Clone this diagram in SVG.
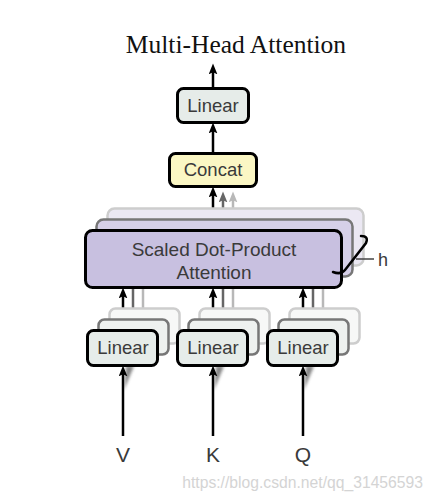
<svg xmlns="http://www.w3.org/2000/svg" width="434" height="500" viewBox="0 0 434 500">
  <defs>
    <style>
      .lbl { font-family: "Liberation Sans", Arial, sans-serif; fill: #3a3a3a; text-anchor: middle; }
      .box { font-size: 18.5px; }
      .lin { fill: #e6ece9; stroke: #000; stroke-width: 3; }
      .lin2 { fill: #eef1ef; stroke: #777; stroke-width: 2.5; }
      .lin3 { fill: #f7f8f7; stroke: #cdcdcd; stroke-width: 2.5; }
      .att { fill: #c8c0e0; stroke: #000; stroke-width: 3; }
      .att2 { fill: #d6d0e8; stroke: #777; stroke-width: 2.5; }
      .att3 { fill: #ebe8f3; stroke: #cdcdcd; stroke-width: 2.5; }
      .cat { fill: #fbf7c4; stroke: #000; stroke-width: 3; }
      .arr { stroke: #000; stroke-width: 2.5; fill: none; marker-end: url(#head); }
      .arr2 { stroke: #666; stroke-width: 2.5; fill: none; }
      .arr3 { stroke: #b8b8b8; stroke-width: 2.5; fill: none; }
    </style>
    <marker id="head" viewBox="0 0 10 8" markerWidth="11" markerHeight="9" refX="4" refY="4" orient="auto" markerUnits="userSpaceOnUse">
      <path d="M0,0 L10,4 L0,8 L2,4 z" fill="#000"/>
    </marker>
    <marker id="head2" viewBox="0 0 10 8" markerWidth="11" markerHeight="9" refX="4" refY="4" orient="auto" markerUnits="userSpaceOnUse">
      <path d="M0,0 L10,4 L0,8 L2,4 z" fill="#666"/>
    </marker>
    <marker id="head3" viewBox="0 0 10 8" markerWidth="11" markerHeight="9" refX="4" refY="4" orient="auto" markerUnits="userSpaceOnUse">
      <path d="M0,0 L10,4 L0,8 L2,4 z" fill="#b8b8b8"/>
    </marker>
    <filter id="soft" x="-50%" y="-50%" width="200%" height="200%">
      <feGaussianBlur stdDeviation="1.6"/>
    </filter>
  </defs>

  <rect width="434" height="500" fill="#fff"/>

  <!-- title -->
  <text x="236" y="53" font-family="'Liberation Serif', 'Times New Roman', serif" font-size="25.5" text-anchor="middle" fill="#111">Multi-Head Attention</text>

  <!-- connectors -->
  <g id="connectors">
    <!-- output of final Linear -->
    <line class="arr" x1="213" y1="87" x2="213" y2="70"/>
    <!-- Concat to Linear -->
    <line class="arr" x1="213" y1="153" x2="213" y2="129"/>
    <!-- attention heads to Concat -->
    <line class="arr3" x1="233" y1="208" x2="233" y2="198" marker-end="url(#head3)"/>
    <line class="arr2" x1="223" y1="219" x2="223" y2="198" marker-end="url(#head2)"/>
    <line class="arr" x1="213" y1="230" x2="213" y2="193"/>
    <!-- projected inputs to attention (back heads) -->
    <line class="arr3" x1="143" y1="308" x2="143" y2="288"/>
    <line class="arr2" x1="133" y1="319" x2="133" y2="288"/>
    <line class="arr3" x1="233" y1="308" x2="233" y2="288"/>
    <line class="arr2" x1="223" y1="319" x2="223" y2="288"/>
    <line class="arr3" x1="323" y1="308" x2="323" y2="288"/>
    <line class="arr2" x1="313" y1="319" x2="313" y2="288"/>
    <!-- projected inputs to attention (front head) -->
    <line class="arr" x1="123" y1="330" x2="123" y2="294"/>
    <line class="arr" x1="213" y1="330" x2="213" y2="294"/>
    <line class="arr" x1="303" y1="330" x2="303" y2="294"/>
    <!-- inputs into back projections, seen at an angle -->
    <g filter="url(#soft)" fill="#666" opacity="0.8">
      <polygon points="124,390 126,366 134,366"/>
      <polygon points="214,390 216,366 224,366"/>
      <polygon points="304,390 306,366 314,366"/>
    </g>
    <!-- V, K, Q inputs -->
    <line class="arr" x1="123" y1="436" x2="123" y2="372"/>
    <line class="arr" x1="213" y1="436" x2="213" y2="372"/>
    <line class="arr" x1="303" y1="436" x2="303" y2="372"/>
  </g>

  <!-- final projection -->
  <g id="linear-out">
    <rect class="lin" x="177.5" y="88.5" width="71" height="34" rx="6"/>
    <text class="lbl box" x="213" y="112">Linear</text>
  </g>

  <!-- concatenation -->
  <g id="concat">
    <rect class="cat" x="169.5" y="153.5" width="87" height="33" rx="6"/>
    <text class="lbl box" x="213" y="176">Concat</text>
  </g>

  <!-- stacked attention heads -->
  <g id="attention">
    <rect class="att3" x="107.5" y="208.5" width="256" height="57" rx="7"/>
    <rect class="att2" x="96.5" y="219.5" width="256" height="57" rx="7"/>
    <rect class="att" x="85.5" y="230.5" width="256" height="57" rx="7"/>
    <text class="lbl" x="214" y="256" font-size="19">Scaled Dot-Product</text>
    <text class="lbl" x="214" y="279" font-size="19">Attention</text>
  </g>

  <!-- head count bracket -->
  <g id="heads-h">
    <path d="M361,236 Q369,236 366,243 L345,270 Q341,275 333,272" fill="none" stroke="#000" stroke-width="2.5" stroke-linecap="round"/>
    <line x1="356" y1="259" x2="374" y2="259" stroke="#444" stroke-width="1.5"/>
    <text class="lbl" x="383" y="266" font-size="18">h</text>
  </g>

  <!-- input projections -->
  <g id="linear-v">
    <rect class="lin3" x="109.5" y="308.5" width="70" height="35" rx="6"/>
    <rect class="lin2" x="98.5" y="319.5" width="70" height="35" rx="6"/>
    <rect class="lin" x="87.5" y="330.5" width="70" height="35" rx="6"/>
    <text class="lbl box" x="123" y="354">Linear</text>
  </g>
  <g id="linear-k">
    <rect class="lin3" x="199.5" y="308.5" width="70" height="35" rx="6"/>
    <rect class="lin2" x="188.5" y="319.5" width="70" height="35" rx="6"/>
    <rect class="lin" x="177.5" y="330.5" width="70" height="35" rx="6"/>
    <text class="lbl box" x="213" y="354">Linear</text>
  </g>
  <g id="linear-q">
    <rect class="lin3" x="289.5" y="308.5" width="70" height="35" rx="6"/>
    <rect class="lin2" x="278.5" y="319.5" width="70" height="35" rx="6"/>
    <rect class="lin" x="267.5" y="330.5" width="70" height="35" rx="6"/>
    <text class="lbl box" x="303" y="354">Linear</text>
  </g>

  <!-- inputs -->
  <g id="input-v"><text class="lbl" x="123" y="462" font-size="21">V</text></g>
  <g id="input-k"><text class="lbl" x="213" y="462" font-size="21">K</text></g>
  <g id="input-q"><text class="lbl" x="303" y="462" font-size="21">Q</text></g>

  <!-- watermark -->
  <text x="423" y="488" font-family="'Liberation Sans', Arial, sans-serif" font-size="15.7" text-anchor="end" fill="#d4d4d4">https://blog.csdn.net/qq_31456593</text>
</svg>
